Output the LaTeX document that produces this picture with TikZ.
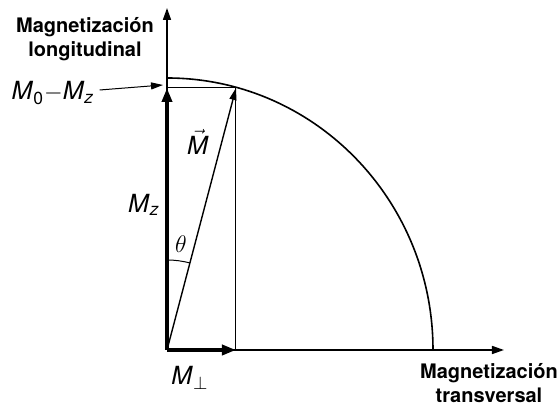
\documentclass[tikz,border=0pt]{standalone}
\usepackage{amsmath, amssymb}
\usepackage{fontspec}
\setsansfont{TeX Gyre Heros}
\usetikzlibrary{positioning, arrows.meta, calc}
\newcommand{\Mi}{\textsf{\textit{M}}}
\tikzset{
    axis/.style={
        line width=0.8pt,
        -{Triangle[length=6pt,width=4pt]}
    },
    thickvec/.style={
        line width=2pt,
        -{Triangle[length=7pt,width=5pt]}
    },
    thinvec/.style={
        line width=0.7pt,
        -{Triangle[length=6pt,width=3.5pt]}
    },
    guide/.style={
        line width=0.5pt
    },
    axislabel/.style={
        font=\sffamily\bfseries,
        align=center,
        inner sep=0pt
    },
    veclabel/.style={
        font=\fontsize{12.5}{15}\selectfont,
        inner sep=1pt
    }
}

\begin{document}
\begin{tikzpicture}[x=0.5pt,y=0.5pt]

      \useasboundingbox (-167,-56) rectangle (392,350);

      % points
      \coordinate (O) at (0,0);
      \coordinate (ytop) at (0,342);
      \coordinate (xend) at (337,0);
      \coordinate (T) at (69,262);
      \coordinate (Tz) at (0,262);
      \coordinate (Tx) at (69,0);

      % axes and circle
      \draw[axis] (O) -- (ytop);
      \draw[axis] (O) -- (xend);
      \draw[line width=0.8pt] (0,272) arc[start angle=90,end angle=0,x radius=266,y radius=272];

      % projections
      \draw[guide] (Tz) -- (T) -- (Tx);

      % vectors
      \draw[thickvec] (O) -- (Tz);
      \draw[thickvec] (O) -- (Tx);
      \draw[thinvec] (O) -- (T);

      % angle
      \draw[guide] (0,90) arc[start angle=90,end angle=75.25,radius=90];

      % labels
      \node[axislabel] (long) at (-82,311) {Magnetización\\longitudinal};
      \node[axislabel] (trans) at (322,-33) {Magnetización\\transversal};
      \node[veclabel] (mdiff) at (-114,257) {$\Mi_{\textsf{0}}{-}\Mi_{\textsf{\textit{z}}}$};
      \draw[thinvec,line width=0.5pt] (mdiff.east) ++(3,3) coordinate (mstart) -- ($(Tz)+(-4,3)$) coordinate (mend);
      \node[veclabel] (mvec) at (31,208) {$\vec{\Mi}$};
      \node[veclabel] (mz) at (-23,145) {$\Mi_{\textsf{\textit{z}}}$};
      \node[font=\large] (theta) at (14,106) {$\theta$};
      \node[veclabel] (mperp) at (23,-28) {$\Mi_\perp$};

    \end{tikzpicture}
\end{document}
